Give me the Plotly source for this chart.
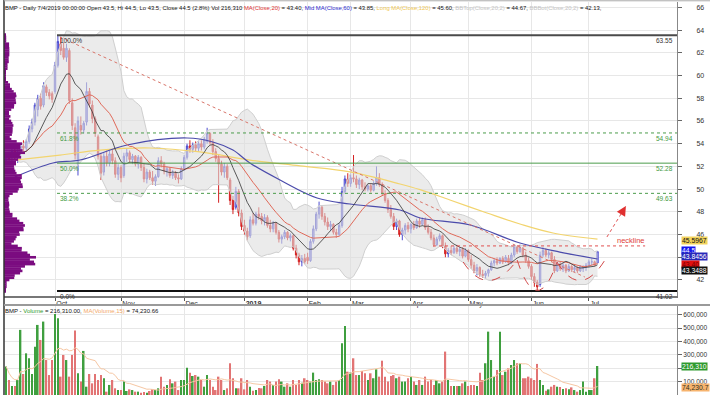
import numpy as np
import pandas as pd
import plotly.graph_objects as go

# ---------------- calendar (HOSE trading days) ----------------
holidays = ["2019-01-01", "2019-02-04", "2019-02-05", "2019-02-06", "2019-02-07",
            "2019-02-08", "2019-04-15", "2019-04-30", "2019-05-01"]
dates = pd.bdate_range("2018-09-06", "2019-07-04", freq="C", holidays=holidays)

# ---------------- daily OHLC ----------------
opens = [52.5, 52.9, 52.8, 53.4, 52.9, 53.2, 53.8, 53.6, 54.2, 55.3,
         55.9, 57.0, 58.0, 57.4, 59.0, 58.5, 58.4, 58.6, 60.9, 62.8,
         62.4, 61.6, 62.2, 57.6, 55.4, 52.2, 55.6, 55.2, 55.9, 58.6,
         57.4, 56.2, 54.6, 52.9, 51.5, 52.9, 52.3, 53.1, 52.5, 51.3,
         51.9, 51.2, 52.9, 53.2, 52.6, 52.9, 52.2, 52.8, 51.9, 50.9,
         51.5, 51.0, 50.7, 51.1, 52.5, 52.2, 51.6, 51.8, 51.2, 51.4,
         51.0, 50.9, 51.8, 52.8, 53.8, 53.5, 53.9, 53.6, 54.0, 53.7,
         54.2, 54.9, 54.1, 53.3, 52.7, 52.2, 51.5, 52.0, 50.8, 49.0,
         48.4, 49.8, 47.9, 46.8, 46.3, 45.9, 47.3, 47.0, 47.8, 47.6,
         47.2, 47.5, 46.8, 46.5, 47.0, 46.2, 45.6, 45.8, 46.2, 45.7,
         45.9, 44.8, 44.2, 43.6, 43.9, 44.0, 43.7, 45.4, 46.5, 47.8,
         48.4, 47.6, 47.1, 46.7, 46.9, 46.2, 46.0, 46.8, 49.8, 50.9,
         50.5, 51.0, 50.9, 50.4, 50.8, 50.2, 50.0, 50.3, 49.9, 50.5,
         51.0, 50.4, 49.6, 49.0, 48.2, 47.6, 46.7, 47.2, 46.0, 46.4,
         46.8, 46.5, 46.9, 46.6, 47.2, 46.9, 47.3, 46.6, 46.2, 45.7,
         45.1, 45.6, 45.9, 45.0, 44.3, 44.6, 44.4, 44.8, 44.5, 44.7,
         44.1, 44.6, 43.8, 43.3, 42.8, 43.1, 42.5, 42.4, 42.6, 42.9,
         43.5, 43.7, 43.5, 43.9, 43.6, 43.9, 43.5, 44.2, 44.9, 44.5,
         44.8, 44.2, 43.7, 43.2, 42.3, 41.8, 41.6, 44.2, 44.6, 44.2,
         44.4, 43.8, 42.8, 43.4, 43.0, 43.3, 42.8, 43.2, 42.9, 43.1,
         42.8, 43.0, 43.1, 43.3, 43.6, 43.6, 43.5]
highs = [53.2, 53.3, 53.6, 53.8, 53.5, 54.0, 54.3, 54.4, 55.6, 56.2,
         57.6, 58.3, 58.4, 59.4, 59.2, 58.8, 58.6, 61.2, 63.55, 63.4,
         62.9, 62.8, 62.4, 58.0, 55.8, 56.4, 56.4, 56.0, 59.4, 58.9,
         57.8, 56.4, 54.8, 53.2, 53.2, 53.4, 53.4, 53.5, 52.8, 52.2,
         52.1, 53.2, 53.6, 53.4, 53.1, 53.0, 53.0, 52.9, 52.3, 51.8,
         51.7, 51.6, 51.3, 52.8, 52.9, 52.4, 52.0, 51.9, 51.7, 51.6,
         51.3, 52.0, 53.0, 54.0, 54.3, 54.1, 54.2, 54.2, 54.3, 54.6,
         55.4, 55.0, 54.4, 53.6, 53.0, 52.5, 52.3, 52.2, 51.0, 49.4,
         50.2, 50.0, 48.2, 47.3, 46.6, 47.6, 47.9, 48.0, 48.4, 47.9,
         47.8, 47.7, 47.3, 47.2, 47.1, 46.4, 46.0, 46.4, 46.3, 46.1,
         46.0, 45.1, 44.4, 44.2, 44.3, 44.4, 45.6, 46.8, 48.0, 48.9,
         48.6, 47.9, 47.5, 47.2, 47.0, 46.5, 47.0, 50.2, 51.2, 51.4,
         51.3, 53.0, 51.2, 51.0, 50.9, 50.6, 50.4, 50.5, 50.7, 52.0,
         51.4, 50.6, 49.9, 49.2, 48.6, 47.9, 47.4, 47.3, 46.6, 47.0,
         47.1, 47.0, 47.2, 47.4, 47.5, 47.5, 47.5, 46.9, 46.5, 46.0,
         45.8, 46.1, 46.0, 45.3, 44.8, 45.0, 45.0, 45.1, 44.9, 44.9,
         44.8, 44.7, 44.2, 43.6, 43.4, 43.2, 42.9, 42.8, 43.0, 43.7,
         43.9, 44.0, 44.0, 44.1, 44.2, 44.2, 44.4, 45.1, 45.0, 45.1,
         44.9, 44.5, 44.0, 43.4, 42.6, 42.0, 44.5, 44.9, 44.8, 44.6,
         44.5, 44.1, 43.6, 43.6, 43.5, 43.4, 43.4, 43.3, 43.3, 43.2,
         43.3, 43.3, 43.5, 43.8, 43.9, 43.7, 44.5]
lows = [52.2, 52.3, 52.4, 52.6, 52.3, 52.8, 53.2, 53.3, 54.0, 55.0,
        55.6, 56.4, 57.0, 57.2, 58.2, 57.9, 57.6, 58.4, 60.7, 61.8,
        61.4, 61.2, 57.5, 55.2, 52.6, 51.2, 54.8, 54.9, 55.6, 57.2,
        55.8, 54.6, 52.6, 50.8, 51.2, 52.0, 52.0, 52.2, 51.0, 50.8,
        50.6, 51.0, 52.4, 52.3, 52.2, 52.0, 51.8, 51.6, 50.6, 50.5,
        50.8, 50.4, 50.3, 51.0, 51.9, 51.3, 51.1, 51.0, 50.9, 50.8,
        50.5, 50.8, 51.6, 52.6, 53.2, 53.2, 53.3, 53.3, 53.4, 53.5,
        54.0, 53.9, 53.0, 52.4, 48.8, 51.2, 51.0, 50.8, 48.6, 47.8,
        48.2, 47.6, 46.4, 46.0, 45.5, 45.7, 46.8, 46.8, 47.3, 46.9,
        46.8, 46.6, 46.2, 46.2, 46.0, 45.3, 45.2, 45.6, 45.5, 45.4,
        44.6, 43.9, 43.3, 43.2, 43.4, 43.4, 43.6, 45.2, 46.3, 47.4,
        47.3, 46.8, 46.4, 46.3, 46.0, 45.7, 45.9, 46.6, 49.6, 50.2,
        50.2, 50.6, 50.1, 50.0, 49.9, 49.8, 49.8, 49.7, 49.8, 50.3,
        50.2, 49.4, 48.8, 47.9, 47.4, 46.4, 46.4, 45.8, 45.5, 46.0,
        46.2, 46.1, 46.4, 46.5, 46.6, 46.8, 46.4, 46.0, 45.5, 44.9,
        45.0, 45.4, 44.8, 44.0, 44.0, 44.2, 44.3, 44.3, 44.1, 43.9,
        44.0, 43.6, 43.0, 42.6, 42.4, 42.3, 42.2, 42.1, 42.3, 42.8,
        43.2, 43.3, 43.4, 43.4, 43.5, 43.3, 43.4, 44.0, 44.3, 44.4,
        44.0, 43.5, 43.0, 42.0, 41.4, 41.02, 41.4, 44.0, 44.0, 43.9,
        43.6, 42.6, 42.7, 42.8, 42.7, 42.6, 42.7, 42.7, 42.7, 42.6,
        42.7, 42.7, 42.8, 43.1, 43.3, 43.2, 43.5]
closes = [52.9, 52.6, 53.4, 52.9, 53.3, 53.8, 53.6, 54.2, 55.3, 55.9,
          57.4, 58.0, 57.3, 59.1, 58.5, 58.2, 57.9, 60.9, 63.0, 62.2,
          61.6, 62.4, 57.8, 55.6, 53.0, 56.0, 55.2, 55.8, 58.6, 57.5,
          56.2, 54.9, 52.9, 51.4, 52.9, 52.3, 53.1, 52.5, 51.3, 51.9,
          51.0, 52.9, 53.2, 52.6, 52.9, 52.2, 52.8, 51.9, 50.9, 51.5,
          51.0, 50.7, 51.1, 52.5, 52.2, 51.6, 51.8, 51.2, 51.4, 51.0,
          50.9, 51.8, 52.8, 53.8, 53.5, 53.9, 53.6, 54.0, 53.7, 54.4,
          54.9, 54.1, 53.3, 52.7, 52.2, 51.5, 52.0, 51.0, 49.0, 48.2,
          49.8, 47.9, 46.7, 46.3, 45.8, 47.3, 47.0, 47.8, 47.6, 47.2,
          47.5, 46.8, 46.5, 47.0, 46.2, 45.6, 45.8, 46.2, 45.7, 45.9,
          44.8, 44.2, 43.6, 43.9, 43.6, 43.7, 45.4, 46.5, 47.8, 48.4,
          47.6, 47.1, 46.7, 46.9, 46.2, 46.0, 46.8, 49.8, 50.9, 50.5,
          51.0, 50.9, 50.4, 50.8, 50.2, 50.0, 50.3, 49.9, 50.5, 51.0,
          50.4, 49.6, 49.0, 48.2, 47.6, 46.7, 47.2, 46.0, 46.4, 46.8,
          46.5, 46.9, 46.6, 47.2, 46.9, 47.3, 46.6, 46.2, 45.7, 45.1,
          45.6, 45.9, 45.0, 44.3, 44.6, 44.4, 44.8, 44.5, 44.7, 44.1,
          44.6, 43.8, 43.3, 42.8, 43.1, 42.5, 42.4, 42.6, 42.9, 43.5,
          43.7, 43.5, 43.9, 43.6, 44.0, 43.5, 44.2, 44.9, 44.5, 44.8,
          44.2, 43.7, 43.2, 42.3, 41.8, 41.4, 44.2, 44.6, 44.2, 44.4,
          43.8, 42.8, 43.4, 43.0, 43.3, 42.8, 43.2, 42.9, 43.1, 42.8,
          43.2, 43.1, 43.3, 43.6, 43.6, 43.3, 44.5]
volumes = [212000, 112000, 67000, 67000, 112000, 486000, 157000, 311000, 274000, 157000,
           361000, 523000, 411000, 548000, 261000, 149000, 261000, 605000, 573000, 137000,
           299000, 261000, 137000, 299000, 481000, 162000, 100000, 329000, 62000, 157000,
           87000, 157000, 112000, 149000, 125000, 25000, 75000, 112000, 50000, 37000,
           37000, 100000, 30000, 42000, 37000, 25000, 25000, 17000, 22000, 17000,
           30000, 45000,
           37000, 50000, 137000, 62000, 75000, 117000, 87000, 100000, 37000, 112000,
           112000, 204000, 167000, 142000, 149000, 137000, 112000, 62000, 149000, 112000,
           62000, 37000, 137000, 112000, 37000, 50000, 237000, 125000, 50000, 50000,
           125000, 42000, 112000, 62000, 32000, 37000, 52000, 50000, 67000, 112000,
           100000, 75000, 100000, 117000, 100000, 62000, 87000, 62000, 112000, 75000,
           112000, 92000, 125000, 112000, 100000, 167000, 112000, 117000, 112000, 100000,
           87000, 100000, 75000, 100000, 112000, 386000, 515000, 174000, 167000, 274000,
           149000, 149000, 179000, 162000, 112000, 162000, 125000, 192000, 137000, 256000,
           137000, 100000, 142000, 149000, 125000, 137000, 100000, 100000, 125000, 137000,
           100000,
           75000, 112000, 75000, 137000, 100000, 112000, 75000, 112000, 87000, 100000,
           324000, 112000, 67000, 67000, 67000, 67000, 87000, 100000, 67000, 75000,
           75000, 67000, 167000, 112000, 237000, 473000, 261000, 137000, 187000, 473000,
           149000, 174000, 199000, 224000, 261000, 237000, 237000, 125000, 125000, 137000,
           125000, 112000, 232000, 112000, 75000, 32000, 42000, 62000, 75000, 62000,
           60000, 45000,
           50000, 42000, 57000, 37000, 25000, 37000, 100000, 25000, 37000, 37000, 125000, 216310]

# MA(60) / MA(120) curves (their history starts before the window)
ma60_idx = [3, 16.3, 25.7, 42.1, 63.0, 72.0, 79.0, 84.9, 95.4, 108.3, 119.8, 137.2, 144.2, 161.6, 179.0, 192.9, 206]
ma60_val = [51.07, 52.30, 52.56, 53.88, 54.50, 54.15, 53.44, 52.30, 50.80, 49.22, 48.69, 48.16, 47.46, 46.84, 45.26, 44.46, 43.85]
ma120_idx = [3, 18.7, 32.7, 50.1, 67.5, 84.9, 102.4, 119.8, 137.2, 144.2, 154.6, 167.5, 179.0, 190.5, 206]
ma120_val = [52.56, 53.00, 53.44, 53.62, 53.27, 52.56, 52.04, 51.51, 50.45, 49.95, 49.04, 47.90, 46.93, 46.14, 45.60]

# drawn objects (trend line, neckline, target arrow, head & shoulders arcs)
trend_x = [18.7, 201.6]
trend_y = [63.4, 42.26]
neck_x = [148.7, 222.6]
neck_y = [45.0, 45.0]
arrow_x = [209.3, 215.9]
arrow_y = [45.79, 48.51]
arc_pts = [  # (start, control, end) in (index, price)
    [(159.2, 43.58), (167.9, 40.24), (178.0, 43.76)],
    [(178.0, 43.76), (184.9, 38.48), (191.9, 43.58)],
    [(191.9, 43.58), (199.9, 40.24), (208.6, 43.76)],
]
fib_ratios = [1.0, 0.618, 0.5, 0.382, 0.0]
fib_names = ["100.0%", "61.8%", "50.0%", "38.2%", "0.0%"]
price_ticks = [42, 44, 46, 48, 50, 52, 54, 56, 58, 60, 62, 64, 66]
vol_ticks = [100000, 200000, 300000, 400000, 500000, 600000]

# ---------------- derived series ----------------
n = len(dates)
x = np.arange(n)
o = np.array(opens); h = np.array(highs); l = np.array(lows); c = np.array(closes)
v = np.array(volumes, dtype=float)
cs = pd.Series(c)
ma20 = cs.rolling(20, min_periods=5).mean()
sd20 = cs.rolling(20, min_periods=5).std(ddof=0)
bb_top = ma20 + 2 * sd20
bb_bot = ma20 - 2 * sd20
ma10 = cs.rolling(10, min_periods=5).mean()
vma15 = pd.Series(v).rolling(15, min_periods=1).mean()

# month ticks
m_idx, m_txt = [], []
for i in range(1, n):
    if dates[i].month != dates[i - 1].month:
        m_idx.append(i)
        m_txt.append("<b>%d</b>" % dates[i].year if dates[i].month == 1 else dates[i].strftime("%b"))

# volume-at-price profile
edges = np.arange(40.5, 64.21, 0.2)
centers = edges[:-1] + 0.1
prof = np.zeros(len(centers))
for hi, lo, vol in zip(h, l, v):
    m = (centers >= lo - 0.1) & (centers <= hi + 0.1)
    if m.sum() == 0:
        m = np.abs(centers - (hi + lo) / 2) == np.abs(centers - (hi + lo) / 2).min()
    prof[m] += vol / m.sum()

hi_i = int(np.argmax(h))
top, bot = h.max(), l.min()
fib_levels = [bot + r * (top - bot) for r in fib_ratios]

# tick texts (values hidden behind the last-value boxes are left blank, as in the source)
price_txt = ["" if t == 44 else str(t) for t in price_ticks]
vol_txt = ["" if t == 200000 else "{:,}".format(t) for t in vol_ticks]

# ---------------- figure ----------------
FONT = "Arial, Liberation Sans, sans-serif"
XR = [-0.77, 233.7]
PR = [40.59, 66.47]
fig = go.Figure()

# volume profile
fig.add_trace(go.Bar(y=centers, x=prof, orientation="h", width=0.23,
                     marker=dict(color="#7b0c80", line=dict(width=0)),
                     xaxis="x3", yaxis="y", hoverinfo="skip"))
# Bollinger
fig.add_trace(go.Scatter(x=x, y=bb_top, mode="lines", line=dict(color="#cfcfcf", width=1),
                         xaxis="x", yaxis="y", hoverinfo="skip"))
fig.add_trace(go.Scatter(x=x, y=bb_bot, mode="lines", line=dict(color="#cfcfcf", width=1),
                         fill="tonexty", fillcolor="rgba(222,222,222,0.6)",
                         xaxis="x", yaxis="y", hoverinfo="skip"))
# MAs
fig.add_trace(go.Scatter(x=ma120_idx, y=ma120_val, mode="lines", line=dict(color="#f2d46e", width=1.2, shape="spline"),
                         xaxis="x", yaxis="y"))
fig.add_trace(go.Scatter(x=ma60_idx, y=ma60_val, mode="lines", line=dict(color="#4b4bab", width=1.2, shape="spline"),
                         xaxis="x", yaxis="y"))
fig.add_trace(go.Scatter(x=x, y=ma20, mode="lines", line=dict(color="#e06a5a", width=1),
                         xaxis="x", yaxis="y"))
fig.add_trace(go.Scatter(x=x, y=ma10, mode="lines", line=dict(color="#333333", width=0.8),
                         xaxis="x", yaxis="y"))
# trend line, neckline, arrow
fig.add_trace(go.Scatter(x=trend_x, y=trend_y, mode="lines", line=dict(color="#d9756a", width=1, dash="dot"),
                         xaxis="x", yaxis="y"))
fig.add_trace(go.Scatter(x=neck_x, y=neck_y, mode="lines", line=dict(color="#e05050", width=1, dash="dot"),
                         xaxis="x", yaxis="y"))
fig.add_trace(go.Scatter(x=arrow_x, y=arrow_y, mode="lines", line=dict(color="#e05050", width=1, dash="dot"),
                         xaxis="x", yaxis="y"))
# candles
fig.add_trace(go.Candlestick(x=x, open=o, high=h, low=l, close=c,
                             increasing=dict(line=dict(color="#4c4cd0", width=1), fillcolor="#a9a9f2"),
                             decreasing=dict(line=dict(color="#d42020", width=1), fillcolor="#e83a3a"),
                             whiskerwidth=0, xaxis="x", yaxis="y"))
# volume
vcol = ["#3f9f3f" if cc >= oo else "#e27474" for oo, cc in zip(o, c)]
fig.add_trace(go.Bar(x=x, y=v, width=0.55, marker=dict(color=vcol, line=dict(width=0)),
                     xaxis="x2", yaxis="y2"))
fig.add_trace(go.Scatter(x=x, y=vma15, mode="lines", line=dict(color="#f6c7a4", width=1),
                         xaxis="x2", yaxis="y2"))

shapes = []
# fib lines
fib_styles = [dict(color="#4a4a4a", width=2, dash="solid"),
              dict(color="#4c9c4c", width=1, dash="dot"),
              dict(color="#4c9c4c", width=1, dash="solid"),
              dict(color="#4c9c4c", width=1, dash="dot"),
              dict(color="#111111", width=2, dash="solid")]
for lev, st in zip(fib_levels, fib_styles):
    shapes.append(dict(type="line", xref="x", yref="y", x0=hi_i - 0.3, x1=XR[1], y0=lev, y1=lev, line=st, layer="above"))
# arcs
for p0, p1, p2 in arc_pts:
    shapes.append(dict(type="path", xref="x", yref="y",
                       path="M %.2f,%.2f Q %.2f,%.2f %.2f,%.2f" % (p0[0], p0[1], p1[0], p1[1], p2[0], p2[1]),
                       line=dict(color="#d24a4a", width=1, dash="dash"), layer="above"))
# frame lines
shapes += [
    dict(type="line", xref="paper", yref="paper", x0=0, x1=0, y0=0, y1=1, line=dict(color="#333", width=1.5)),
    dict(type="line", xref="paper", yref="paper", x0=0, x1=1.05, y0=0.2278, y1=0.2278, line=dict(color="#9a9a9a", width=2)),
    dict(type="line", xref="paper", yref="paper", x0=0, x1=1.05, y0=0.998, y1=0.998, line=dict(color="#aaaaaa", width=1)),
]

ann = []
fib_col = ["#333333", "#3f9a3f", "#3f9a3f", "#3f9a3f", "#333333"]
for lev, name, col in zip(fib_levels, fib_names, fib_col):
    ann.append(dict(x=hi_i, y=lev, xref="x", yref="y", text=name, showarrow=False, xanchor="left",
                    yanchor="top", yshift=0, font=dict(family=FONT, size=6.5, color=col)))
    ann.append(dict(x=1, y=lev, xref="paper", yref="y", text="%.2f" % (round(lev * 100 - 1e-6) / 100), showarrow=False,
                    xanchor="right", yanchor="top", xshift=-2, font=dict(family=FONT, size=6.5, color=col)))
ann.append(dict(x=neck_x[1] - 5, y=neck_y[1], xref="x", yref="y", text="neckline", showarrow=False,
                yanchor="bottom", yshift=-1, font=dict(family=FONT, size=7.5, color="#e03a3a")))
ann.append(dict(x=arrow_x[1], y=arrow_y[1], ax=arrow_x[1] - 0.9, ay=arrow_y[1] - 0.38, xref="x", yref="y",
                axref="x", ayref="y", text="", showarrow=True, arrowhead=2, arrowsize=1.6, arrowwidth=1.2,
                arrowcolor="#e03030"))
title = ('BMP - Daily 7/4/2019 00:00:00 Open 43.5, Hi 44.5, Lo 43.5, Close 44.5 (2.8%) Vol 216,310 '
         '<span style="color:#e03030">MA(Close,20)</span> = 43.40, '
         '<span style="color:#2a2ad0">Mid MA(Close,60)</span> = 43.85, '
         '<span style="color:#f0c850">Long MA(Close,120)</span> = 45.60, '
         '<span style="color:#c4c4c4">BBTop(Close,20,2)</span> = 44.67, '
         '<span style="color:#c4c4c4">BBBot(Close,20,2)</span> = 42.13,')
ann.append(dict(x=0, y=1, xref="paper", yref="paper", text=title, showarrow=False, xanchor="left", yanchor="top",
                xshift=-1, yshift=-3, font=dict(family=FONT, size=5.9, color="#111")))
vtitle = ('BMP - <span style="color:#2f9a2f">Volume</span> = 216,310.00, '
          '<span style="color:#f2a868">MA(Volume,15)</span> = 74,230.66')
ann.append(dict(x=0, y=0.2278, xref="paper", yref="paper", text=vtitle, showarrow=False, xanchor="left",
                yanchor="top", xshift=-1, yshift=-1, font=dict(family=FONT, size=6, color="#111")))
# last-value boxes
boxes = [("45.5967", 45.5967, "#f3d35c", "#111", -1, "y"),
         ("44.5", 44.5, "#1414f0", "#fff", 1, "y"),
         ("43.8456", 43.8456, "#2828b8", "#fff", 3, "y"),
         ("43.40", 43.40, "#e01010", "#700", 0, "y"),
         ("43.3488", 43.3488, "#111111", "#fff", -6, "y"),
         ("216,310", 216310, "#2e9a2e", "#fff", 0, "y2"),
         ("74,230.7", 74230.7, "#f7b46e", "#332", -2, "y2")]
for txt, yv, bg, fc, ys, yr in boxes:
    ann.append(dict(x=1, y=yv, xref="paper", yref=yr, text=txt, showarrow=False, xanchor="left", yanchor="middle",
                    xshift=4, yshift=ys, bgcolor=bg, borderpad=0, font=dict(family=FONT, size=6.8, color=fc)))

axis_common = dict(showgrid=True, gridcolor="#e7e7e7", gridwidth=1, zeroline=False, automargin=False)
fig.update_layout(
    template="none",
    width=710, height=399, margin=dict(l=4, r=33, t=0, b=4, pad=0), autosize=False,
    paper_bgcolor="white", plot_bgcolor="white", showlegend=False,
    font=dict(family=FONT, size=7, color="#222"),
    xaxis=dict(domain=[0, 1], range=XR, anchor="y", tickmode="array", tickvals=m_idx, ticktext=m_txt,
               ticks="outside", ticklen=3, tickcolor="#555", ticklabelposition="outside right",
               tickfont=dict(family=FONT, size=7, color="#333"), showline=True, linecolor="#777", linewidth=1.5,
               rangeslider=dict(visible=False), **axis_common),
    yaxis=dict(domain=[0.2506, 0.9949], range=PR, side="right", anchor="x", tickmode="array",
               tickvals=price_ticks, ticktext=price_txt, ticks="outside",
               ticklen=4, tickcolor="#666", ticklabelstandoff=13, tickfont=dict(family=FONT, size=7, color="#333"),
               showline=True, linecolor="#888", linewidth=1, **axis_common),
    xaxis2=dict(domain=[0, 1], range=XR, anchor="y2", matches="x", tickmode="array", tickvals=m_idx,
                showticklabels=False, ticks="", **axis_common),
    yaxis2=dict(domain=[0, 0.2278], range=[0, 671600], side="right", anchor="x2", tickmode="array",
                tickvals=vol_ticks, ticktext=vol_txt, ticks="outside",
                ticklen=4, tickcolor="#666", tickfont=dict(family=FONT, size=6.6, color="#333"),
                showline=True, linecolor="#888", linewidth=1, **axis_common),
    xaxis3=dict(overlaying="x", range=[0, prof.max() * 673 / 32], visible=False, anchor="y"),
    shapes=shapes, annotations=ann,
)
fig.write_html("out.html", config={"displayModeBar": False},
               post_script="document.body.style.margin='0px';document.body.style.overflow='hidden';")
